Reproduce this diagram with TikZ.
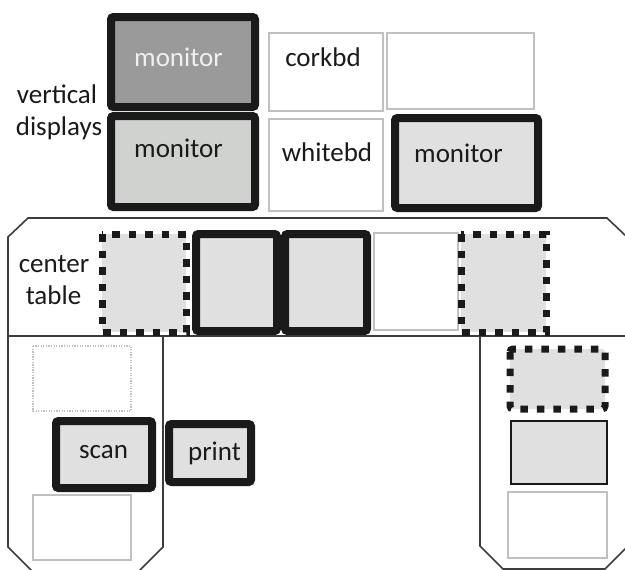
\documentclass[tikz,border=0pt]{standalone}
\usepackage{fontspec}
\setmainfont{Carlito}
\definecolor{boxgray}{HTML}{E0E0E0}
\definecolor{midgray}{HTML}{D0D2D0}
\definecolor{darkfill}{HTML}{9A9A9A}
\definecolor{edgegray}{HTML}{C0C0C0}
\definecolor{ink}{HTML}{1A1A1A}
\tikzset{
  thickbox/.style={draw=ink, line width=8pt, rounded corners=2.5pt, fill=boxgray},
  dotbox/.style={draw=ink, line width=7pt, dash pattern=on 7.5pt off 9pt, fill=boxgray},
  thinbox/.style={draw=edgegray, line width=1.6pt, fill=white},
  dotthin/.style={draw=edgegray, line width=1.3pt, dash pattern=on 1.3pt off 1.3pt},
  plainbox/.style={draw=ink, line width=1.8pt, fill=boxgray},
  outline/.style={draw=ink!85, line width=1.6pt},
  lbl/.style={font=\fontsize{27}{31}\selectfont, inner sep=0pt, anchor=base, text=ink},
}
\begin{document}
\begin{tikzpicture}[x=1pt,y=-1pt]
\useasboundingbox (0,0) rectangle (625,570);
\clip (0,0) rectangle (625,570);
% table outline
\draw[outline] (627,237) -- (607,218) -- (28,218) -- (8,237) -- (8,547) -- (31,570) -- (31,575);
\draw[outline] (8,336) -- (627,336);
\draw[outline] (163,336) -- (163,547) -- (140,570) -- (140,575);
\draw[outline] (480,336) -- (480,546) -- (503,569) -- (605,569) -- (628,546);
% vertical displays
\draw[thickbox, fill=darkfill] (111,17) rectangle (255,107);
\draw[thickbox, fill=midgray] (111,116) rectangle (255,207);
\draw[thinbox] (269,33) rectangle (383,111);
\draw[thinbox] (387,33) rectangle (534,109);
\draw[thinbox] (269,119) rectangle (383,211);
\draw[thickbox] (395,118) rectangle (538,208);
\node[lbl, text=white!94!black] (mon1) at (178.5,66) {monitor};
\node[lbl] (mon2) at (178.5,157) {monitor};
\node[lbl] (cork) at (323,66) {corkbd};
\node[lbl] (white) at (327,161) {whitebd};
\node[lbl] (mon3) at (458.5,162) {monitor};
\node[lbl] (vert) at (57,103) {vertical};
\node[lbl] (disp) at (59,135) {displays};
% center table
\draw[dotbox] (102,234) rectangle (186,332);
\draw[thickbox] (196,234) rectangle (277,331);
\draw[thickbox] (285,234) rectangle (367,331);
\draw[thinbox] (374,233) rectangle (458,330);
\draw[dotbox] (461,234) rectangle (546,332);
\node[lbl] (cen) at (54,272) {center};
\node[lbl] (tab) at (53.5,304) {table};
% left wing
\draw[dotthin] (33,346) rectangle (131,411);
\draw[thickbox] (56,421) rectangle (152,488);
\draw[thickbox] (169,424) rectangle (251,482);
\draw[thinbox] (33,495) rectangle (131,560);
\node[lbl] (scan) at (103.5,458) {scan};
\node[lbl] (print) at (214.5,460) {print};
% right wing
\draw[dotbox, rounded corners=3pt] (510,349) rectangle (605,409);
\draw[plainbox] (511,421) rectangle (607,484);
\draw[thinbox] (508,492) rectangle (607,558);
\end{tikzpicture}
\end{document}
